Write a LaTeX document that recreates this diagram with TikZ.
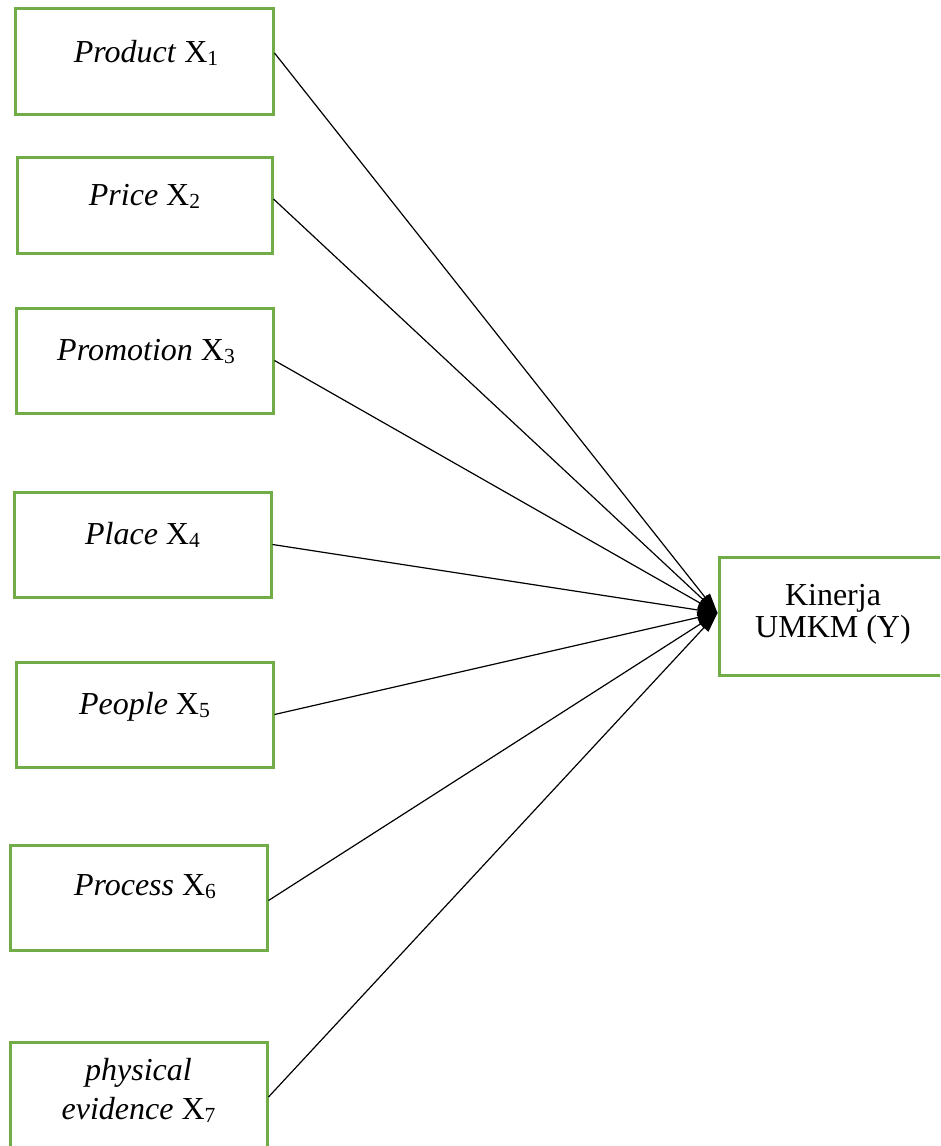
\documentclass[tikz,border=0pt]{standalone}
\usepackage{fontspec}
\setmainfont{Liberation Serif}
\usetikzlibrary{arrows.meta,calc}
\definecolor{boxgreen}{HTML}{70AD47}
\newcommand\mysub[1]{\raisebox{-3pt}{\fontsize{21.5}{21.5}\selectfont #1}}
\begin{document}
\begin{tikzpicture}[x=1pt,y=-1pt,
  box/.style={draw=boxgreen, line width=3pt, inner sep=0pt},
  lbl/.style={anchor=base, font=\fontsize{32}{36}\selectfont, inner sep=0pt},
  conn/.style={line width=1.2pt, -{Triangle[length=20pt,width=12pt]}}]
\useasboundingbox (0,0) rectangle (940,1146);
\clip (0,0) rectangle (940,1146);
% boxes
\node[box, minimum width=258pt, minimum height=106pt] (b1) at (144,61) {};
\node[box, minimum width=255pt, minimum height=96pt] (b2) at (144.5,205) {};
\node[box, minimum width=257pt, minimum height=105pt] (b3) at (144.5,360.5) {};
\node[box, minimum width=257pt, minimum height=105pt] (b4) at (142.5,544.5) {};
\node[box, minimum width=257pt, minimum height=105pt] (b5) at (144.5,714.5) {};
\node[box, minimum width=257pt, minimum height=105pt] (b6) at (138.5,897.5) {};
\node[box, minimum width=257pt, minimum height=110pt] (b7) at (138.5,1097) {};
\node[box, minimum width=227pt, minimum height=118pt] (y) at (832.5,616) {};
% texts
\node[lbl] (t1) at (146,62) {\textit{Product} X\mysub{1}};
\node[lbl] (t2) at (144.5,205) {\textit{Price} X\mysub{2}};
\node[lbl] (t3) at (146,360) {\textit{Promotion} X\mysub{3}};
\node[lbl] (t4) at (142.5,544) {\textit{Place} X\mysub{4}};
\node[lbl] (t5) at (144.5,714) {\textit{People} X\mysub{5}};
\node[lbl] (t6) at (145,895) {\textit{Process} X\mysub{6}};
\node[lbl] (t7a) at (138.5,1080) {\textit{physical}};
\node[lbl] (t7b) at (138.5,1119) {\textit{evidence} X\mysub{7}};
\node[lbl] (ya) at (833,605) {Kinerja};
\node[lbl] (yb) at (833,637) {UMKM (Y)};
% connectors
\coordinate (tgt) at ([yshift=3pt]y.west);
\draw[conn] ([yshift=8pt]b1.east) -- (tgt);
\draw[conn] ([yshift=6pt]b2.east) -- (tgt);
\draw[conn] (b3.east) -- (tgt);
\draw[conn] (b4.east) -- (tgt);
\draw[conn] (b5.east) -- (tgt);
\draw[conn] ([yshift=-3pt]b6.east) -- (tgt);
\draw[conn] (b7.east) -- (tgt);
\end{tikzpicture}
\end{document}
